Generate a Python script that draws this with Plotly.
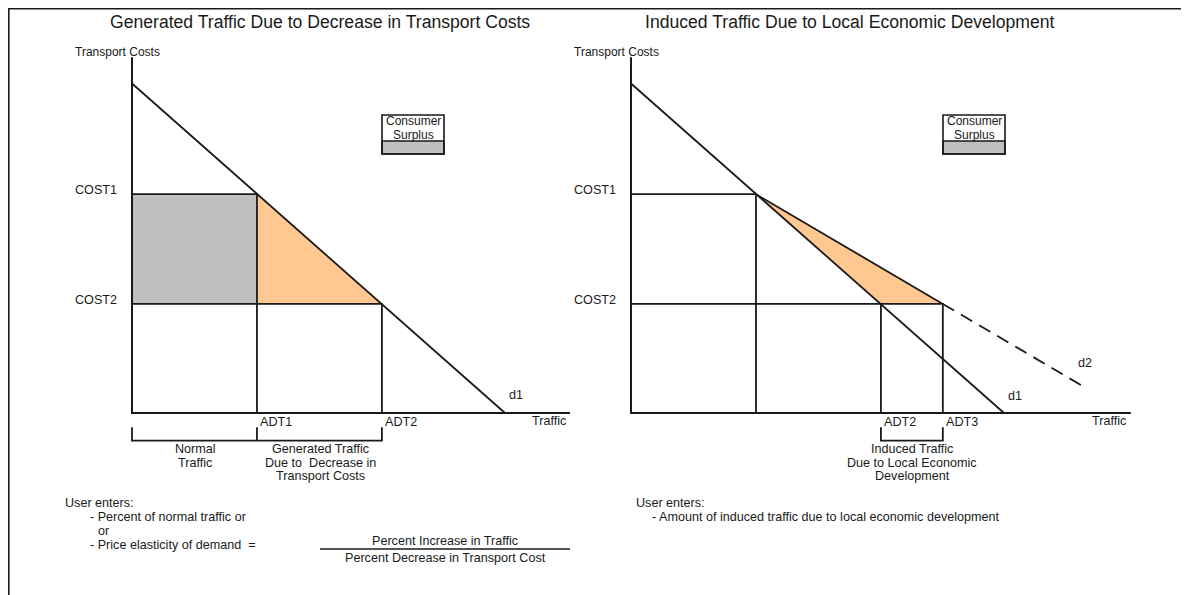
import plotly.graph_objects as go

# ---------------- data (conceptual units; d1 intercepts = 100) ----------------
cost_labels = ["COST1", "COST2"]
cost_values = [66.4, 33.1]
d1_price_intercept = 100.0
d1_traffic_intercept = 100.0
adt_labels_left = ["ADT1", "ADT2"]
adt_values_left = [33.5, 67.0]
adt1_right = 33.5
adt_labels_right = ["ADT2", "ADT3"]
adt_values_right = [67.0, 83.6]
d2_end_traffic = 121.2
d2_end_cost = 8.1
axis_top_cost = 108.0
axis_end_left = 117.4
axis_end_right = 134.0

# ---------------- layout geometry (screen pixels) ----------------
SCR_W, SCR_H = 1189, 595
OFF = 8                         # page body margin
W, H = SCR_W - OFF, SCR_H - OFF  # figure size
SX, SY = 3.73, 3.295            # px per unit
OX_L, OX_R, OY = 132, 631, 413  # origins in screen px
BR_TOP, BR_BOT = -4.3, -8.4     # bracket in cost units (below axis)

LW = 1.8
FONT = "Liberation Sans, Arial, sans-serif"
GRAY = "#bfbfbf"
ORANGE = "#ffc890"
INK = "#1a1a1a"
FS = 12.6

c1, c2 = cost_values
a1, a2 = adt_values_left
r2, r3 = adt_values_right

fig = go.Figure()

def seg(xs, ys, xa="x", dash=None, w=LW):
    ln = dict(color=INK, width=w)
    if dash:
        ln["dash"] = dash
    fig.add_trace(go.Scatter(x=xs, y=ys, mode="lines", line=ln, xaxis=xa, yaxis="y",
                             hoverinfo="skip", showlegend=False))

def poly(xs, ys, color, xa="x"):
    fig.add_trace(go.Scatter(x=xs, y=ys, mode="lines", fill="toself", fillcolor=color,
                             line=dict(width=0, color=color), xaxis=xa, yaxis="y",
                             hoverinfo="skip", showlegend=False))

# ---------------- left panel ----------------
poly([0, a1, a1, 0, 0], [c2, c2, c1, c1, c2], GRAY)
poly([a1, a1, a2, a1], [c1, c2, c2, c1], ORANGE)
seg([0, 0, axis_end_left], [axis_top_cost, 0, 0], w=2)
seg([0, d1_traffic_intercept], [d1_price_intercept, 0])
seg([0, a1, a1], [c1, c1, 0])
seg([0, a2, a2], [c2, c2, 0])
seg([0, 0, a2, a2], [BR_TOP, BR_BOT, BR_BOT, BR_TOP])
seg([a1, a1], [BR_TOP, BR_BOT])

# ---------------- right panel ----------------
poly([adt1_right, r2, r3, adt1_right], [c1, c2, c2, c1], ORANGE, "x2")
seg([0, 0, axis_end_right], [axis_top_cost, 0, 0], "x2", w=2)
seg([0, d1_traffic_intercept], [d1_price_intercept, 0], "x2")
seg([0, adt1_right, adt1_right], [c1, c1, 0], "x2")
seg([0, r3, r3], [c2, c2, 0], "x2")
seg([r2, r2], [c2, 0], "x2")
seg([adt1_right, r3], [c1, c2], "x2")
seg([r3, d2_end_traffic], [c2, d2_end_cost], "x2", dash="13px,8px")
seg([r2, r2, r3, r3], [BR_TOP, BR_BOT, BR_BOT, BR_TOP], "x2")

# ---------------- helpers for screen -> paper ----------------
def P(px, py):
    return (px - OFF) / W, 1 - (py - OFF) / H

ann = []

def txt(px, py, text, size=FS, xanchor="center"):
    if isinstance(text, (list, tuple)):
        for i, t in enumerate(text):
            txt(px, py + i * 13.7, t, size, xanchor)
        return
    a, b = P(px, py)
    ann.append(dict(x=a, y=b, xref="paper", yref="paper", text=text,
                    showarrow=False, xanchor=xanchor, yanchor="middle",
                    font=dict(family=FONT, size=size, color=INK)))

def dtxt(xv, yv, text, xa="x", xshift=0, yshift=0, size=FS, xanchor="left"):
    ann.append(dict(x=xv, y=yv, xref=xa, yref="y", text=text, showarrow=False,
                    xanchor=xanchor, yanchor="middle", xshift=xshift, yshift=yshift,
                    font=dict(family=FONT, size=size, color=INK)))

# titles
txt(320, 22, "Generated Traffic Due to Decrease in Transport Costs", size=17.6)
txt(850, 22, "Induced Traffic Due to Local Economic Development", size=17.6)

for ox in (73, 572):
    txt(ox, 52, "Transport Costs", size=12, xanchor="left")
    for lab, v in zip(cost_labels, cost_values):
        ann.append(dict(x=P(ox, 0)[0], y=v, xref="paper", yref="y", text=lab,
                        showarrow=False, xanchor="left", yanchor="middle", yshift=4,
                        font=dict(family=FONT, size=FS, color=INK)))

for lab, v in zip(adt_labels_left, adt_values_left):
    dtxt(v, 0, lab, "x", xshift=1, yshift=-9)
for lab, v in zip(adt_labels_right, adt_values_right):
    dtxt(v, 0, lab, "x2", xshift=1, yshift=-9)

txt(568, 421, "Traffic", xanchor="right")
txt(1128, 421, "Traffic", xanchor="right")
txt(516, 395, "d1")
txt(1015, 396, "d1")
txt(1085, 363, "d2")

txt(195, 449, ["Normal", "Traffic"])
txt(320, 449, ["Generated Traffic", "Due to  Decrease in", "Transport Costs"])
txt(912, 449, ["Induced Traffic", "Due to Local Economic", "Development"])

txt(63, 503, "User enters:", xanchor="left")
txt(88, 517, "- Percent of normal traffic or", xanchor="left")
txt(96, 531, "or", xanchor="left")
txt(88, 545, "- Price elasticity of demand  =", xanchor="left")
txt(445, 540.5, "Percent Increase in Traffic")
txt(445, 558, "Percent Decrease in Transport Cost")

txt(634, 503, "User enters:", xanchor="left")
txt(650, 517, "- Amount of induced traffic due to local economic development", xanchor="left")

txt(413, 121, ["Consumer", "Surplus"], size=12)
txt(974, 121, ["Consumer", "Surplus"], size=12)

# ---------------- shapes (frame, fraction bar, legend boxes) ----------------
shapes = []
def pline(x0, y0, x1, y1, w=1.5):
    a, b = P(x0, y0)
    c, d = P(x1, y1)
    shapes.append(dict(type="line", xref="paper", yref="paper", x0=a, y0=b, x1=c, y1=d,
                       line=dict(color=INK, width=w)))

def prect(x0, y0, x1, y1, fill=None, w=1.6):
    a, b = P(x0, y0)
    c, d = P(x1, y1)
    shapes.append(dict(type="rect", xref="paper", yref="paper", x0=a, y0=b, x1=c, y1=d,
                       fillcolor=fill if fill else "rgba(0,0,0,0)",
                       line=dict(color=INK, width=w)))

pline(8, 8.8, SCR_W, 8.8, 1.6)
pline(8.8, 8, 8.8, SCR_H, 1.6)
pline(320, 549, 570, 549, 1.3)
for bx in (382, 943):
    prect(bx, 141, bx + 62, 154, fill=GRAY)
    prect(bx, 115, bx + 62, 154)

xl = [(OFF - OX_L) / SX, (SCR_W - OX_L) / SX]
xr = [(OFF - OX_R) / SX, (SCR_W - OX_R) / SX]
yr = [(OY - SCR_H) / SY, (OY - OFF) / SY]

fig.update_layout(
    width=W, height=H,
    margin=dict(l=0, r=0, t=0, b=0),
    paper_bgcolor="white", plot_bgcolor="rgba(0,0,0,0)",
    showlegend=False,
    xaxis=dict(domain=[0, 1], range=xl, visible=False, fixedrange=True),
    xaxis2=dict(domain=[0, 1], range=xr, visible=False, overlaying="x", fixedrange=True),
    yaxis=dict(domain=[0, 1], range=yr, visible=False, fixedrange=True),
    annotations=ann,
    shapes=shapes,
)

fig.write_html("out.html")
